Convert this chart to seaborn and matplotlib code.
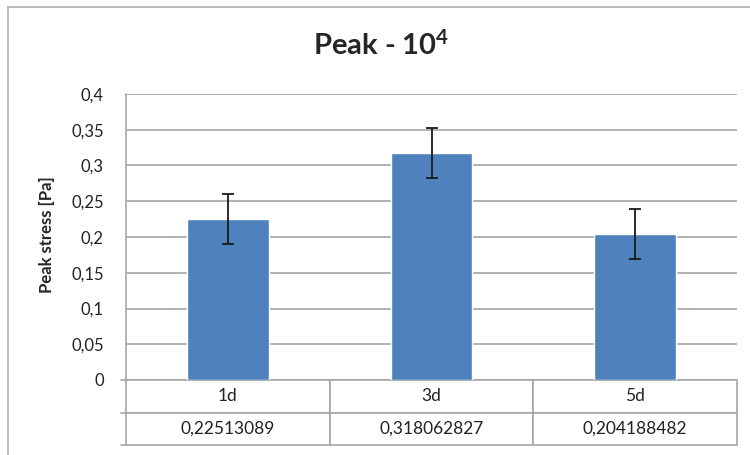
import numpy as np
import pandas as pd
import matplotlib
matplotlib.use("Agg")
import matplotlib.pyplot as plt
from matplotlib.ticker import FuncFormatter, MultipleLocator
from matplotlib.lines import Line2D
import seaborn as sns

categories = ["1d", "3d", "5d"]
values = [0.22513089, 0.318062827, 0.204188482]
errors = [0.035, 0.035, 0.035]
value_labels = ["0,22513089", "0,318062827", "0,204188482"]

sns.set_style("white")
plt.rcParams['font.family'] = ['Lato', 'DejaVu Sans']
plt.rcParams['mathtext.fontset'] = 'custom'
plt.rcParams['mathtext.rm'] = 'Lato'
plt.rcParams['mathtext.bf'] = 'Lato:bold'

grid_col = "#A6A6A6"
bar_col = "#4F81BD"

df = pd.DataFrame({"day": categories, "stress": values})

fig = plt.figure(figsize=(7.5, 4.55), dpi=100)
ax = fig.add_axes([126 / 750, 1 - 380 / 455, (737 - 126) / 750, (380 - 94) / 455])

sns.barplot(data=df, x="day", y="stress", color=bar_col, width=0.4,
            errorbar=None, saturation=1, ax=ax, zorder=3)
ax.errorbar(np.arange(len(values)), values, yerr=errors, fmt="none",
            ecolor="#1a1a1a", elinewidth=1.3, capsize=4.5, capthick=1.3, zorder=4)

ax.set_ylim(0, 0.4)
ax.set_xlim(-0.5, 2.5)
ax.yaxis.set_major_locator(MultipleLocator(0.05))
ax.yaxis.set_major_formatter(FuncFormatter(lambda v, p: f"{v:.2f}".rstrip("0").rstrip(",.").replace(".", ",") if v != 0 else "0"))
ax.grid(axis="y", color=grid_col, linewidth=1.2, zorder=0)
ax.set_xticks([])
ax.set_xlabel("")
ax.set_ylabel("")
ax.tick_params(axis="y", length=0, labelsize=12, labelcolor="#222222", pad=16)
for s in ["top", "right", "bottom"]:
    ax.spines[s].set_visible(False)
ax.spines["left"].set_color(grid_col)
ax.spines["left"].set_linewidth(1.2)

h = (445 - 380) / (380 - 94)
tbl = ax.table(cellText=[categories, value_labels], cellLoc="center",
               bbox=[0, -h, 1, h])
tbl.auto_set_font_size(False)
tbl.set_fontsize(12.5)
for (r, c), cell in tbl.get_celld().items():
    cell.set_edgecolor(grid_col)
    cell.set_linewidth(1.2)
    cell.get_text().set_color("#222222")

# small ticks to the left of the table rows
for yy in [380, 413, 445]:
    fig.add_artist(Line2D([121 / 750, 126 / 750], [1 - yy / 455] * 2, color=grid_col, lw=1.2))

# outer chart frame
fig.add_artist(Line2D([8 / 750, 8 / 750], [0, 1 - 7 / 455], color="#B0B0B0", lw=1.2))
fig.add_artist(Line2D([8 / 750, 1], [1 - 7 / 455] * 2, color="#B0B0B0", lw=1.2))

fig.text(381 / 750, 1 - 45 / 455, r"Peak - $\mathbf{10^4}$", ha="center", va="center",
         fontsize=21, fontweight="bold")
fig.text(47 / 750, 1 - 235 / 455, "Peak stress [Pa]", rotation=90, ha="center",
         va="center", fontsize=12, fontweight="bold")

fig.savefig("out.png", dpi=100)
